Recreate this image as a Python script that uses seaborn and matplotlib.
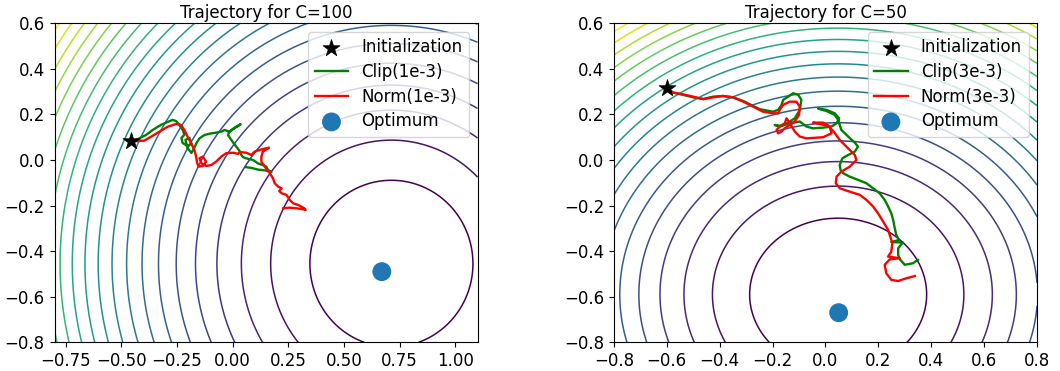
import numpy as np
import matplotlib
matplotlib.use("Agg")
import matplotlib.pyplot as plt
import seaborn as sns

# ---------------- data ----------------
titles = ["Trajectory for C=100", "Trajectory for C=50"]
clip_labels = ["Clip(1e-3)", "Clip(3e-3)"]
norm_labels = ["Norm(1e-3)", "Norm(3e-3)"]

xlims = [(-0.8, 1.1), (-0.8, 0.8)]
ylims = [(-0.8, 0.6), (-0.8, 0.6)]

init_c100 = [-0.458, 0.083]
opt_c100 = [0.67, -0.49]
loss_center_c100 = [0.713, -0.455]
level_first_c100, level_step_c100, n_levels_c100 = 0.134, 0.160, 21

init_c50 = [-0.601, 0.315]
opt_c50 = [0.05, -0.67]
loss_center_c50 = [0.048, -0.59]
level_first_c50, level_step_c50, n_levels_c50 = 0.112, 0.114, 18

clip_c100_x = [-0.458, -0.434, -0.389, -0.359, -0.322, -0.292, -0.269, -0.254, -0.239, -0.224,
               -0.217, -0.230, -0.225, -0.203, -0.185, -0.194, -0.212, -0.203, -0.185, -0.172,
               -0.162, -0.149, -0.126, -0.096, -0.074, -0.050, -0.036, -0.014, 0.001, 0.016,
               0.036, 0.013, -0.014, -0.021, -0.006, 0.016, 0.031, 0.039, 0.046, 0.062,
               0.092, 0.114, 0.136, 0.151, 0.159, 0.174, 0.149, 0.113, 0.086, 0.059]
clip_c100_y = [0.083, 0.088, 0.110, 0.132, 0.154, 0.167, 0.176, 0.171, 0.154, 0.132,
               0.110, 0.097, 0.075, 0.062, 0.071, 0.097, 0.088, 0.053, 0.031, 0.053,
               0.075, 0.095, 0.110, 0.117, 0.120, 0.125, 0.132, 0.124, 0.136, 0.146,
               0.157, 0.143, 0.125, 0.110, 0.088, 0.059, 0.040, 0.022, 0.013, 0.007,
               0.000, -0.015, -0.022, -0.029, -0.044, -0.053, -0.046, -0.042, -0.035, -0.031]

norm_c100_x = [-0.458, -0.434, -0.397, -0.367, -0.329, -0.292, -0.254, -0.232, -0.217, -0.202,
               -0.186, -0.172, -0.164, -0.159, -0.153, -0.134, -0.119, -0.134, -0.149, -0.141,
               -0.119, -0.096, -0.074, -0.051, -0.029, 0.001, 0.024, 0.031, 0.062, 0.084,
               0.099, 0.121, 0.144, 0.163, 0.136, 0.129, 0.129, 0.144, 0.167, 0.181,
               0.189, 0.205, 0.220, 0.209, 0.220, 0.242, 0.256, 0.272, 0.294, 0.309,
               0.322, 0.328, 0.309, 0.287, 0.256, 0.227]
norm_c100_y = [0.083, 0.083, 0.085, 0.102, 0.124, 0.146, 0.158, 0.154, 0.132, 0.102,
               0.073, 0.044, 0.015, -0.014, -0.029, -0.026, -0.007, 0.015, 0.008, -0.014,
               -0.026, -0.022, -0.007, 0.015, 0.030, 0.032, 0.027, 0.035, 0.032, 0.022,
               0.037, 0.044, 0.050, 0.054, 0.037, 0.015, -0.007, -0.029, -0.058, -0.080,
               -0.102, -0.117, -0.124, -0.136, -0.146, -0.153, -0.175, -0.190, -0.197, -0.205,
               -0.212, -0.219, -0.215, -0.212, -0.209, -0.212]

clip_c50_x = [-0.601, -0.576, -0.538, -0.500, -0.462, -0.425, -0.387, -0.349, -0.311, -0.273,
              -0.248, -0.198, -0.179, -0.166, -0.160, -0.141, -0.122, -0.103, -0.091, -0.097,
              -0.116, -0.135, -0.154, -0.173, -0.192, -0.173, -0.135, -0.097, -0.072, -0.047,
              -0.009, 0.023, 0.042, 0.052, 0.035, 0.004, -0.028, 0.004, 0.035, 0.048,
              0.060, 0.086, 0.111, 0.123, 0.111, 0.086, 0.064, 0.054, 0.057, 0.067,
              0.092, 0.123, 0.155, 0.180, 0.205, 0.224, 0.237, 0.249, 0.256, 0.262,
              0.268, 0.278, 0.249, 0.293, 0.275, 0.275, 0.283, 0.300, 0.331, 0.350]
clip_c50_y = [0.315, 0.296, 0.286, 0.275, 0.268, 0.278, 0.281, 0.275, 0.259, 0.237,
              0.223, 0.212, 0.220, 0.242, 0.264, 0.278, 0.293, 0.286, 0.264, 0.220,
              0.183, 0.169, 0.154, 0.147, 0.154, 0.150, 0.161, 0.169, 0.147, 0.139,
              0.142, 0.147, 0.161, 0.183, 0.205, 0.220, 0.226, 0.215, 0.198, 0.176,
              0.132, 0.103, 0.076, 0.059, 0.037, 0.022, 0.008, -0.022, -0.044, -0.058,
              -0.073, -0.087, -0.102, -0.124, -0.146, -0.175, -0.204, -0.234, -0.263, -0.299,
              -0.329, -0.351, -0.360, -0.362, -0.387, -0.417, -0.438, -0.460, -0.453, -0.438]

norm_c50_x = [-0.601, -0.576, -0.538, -0.500, -0.462, -0.425, -0.387, -0.349, -0.311, -0.273,
              -0.236, -0.198, -0.179, -0.173, -0.160, -0.135, -0.110, -0.097, -0.100, -0.116,
              -0.135, -0.154, -0.166, -0.179, -0.185, -0.173, -0.154, -0.147, -0.135, -0.116,
              -0.097, -0.072, -0.009, 0.023, 0.016, -0.009, -0.047, -0.021, 0.010, 0.031,
              0.054, 0.079, 0.098, 0.111, 0.117, 0.092, 0.060, 0.042, 0.039, 0.054,
              0.092, 0.130, 0.155, 0.180, 0.199, 0.218, 0.237, 0.253, 0.249, 0.237,
              0.281, 0.243, 0.224, 0.230, 0.249, 0.275, 0.306, 0.338]
norm_c50_y = [0.315, 0.296, 0.288, 0.278, 0.267, 0.275, 0.281, 0.275, 0.256, 0.234,
              0.212, 0.205, 0.205, 0.220, 0.242, 0.256, 0.256, 0.234, 0.198, 0.169,
              0.154, 0.139, 0.125, 0.117, 0.132, 0.147, 0.161, 0.183, 0.161, 0.125,
              0.103, 0.095, 0.100, 0.117, 0.147, 0.164, 0.164, 0.158, 0.150, 0.125,
              0.088, 0.059, 0.037, 0.022, 0.000, -0.029, -0.051, -0.073, -0.102, -0.124,
              -0.139, -0.153, -0.175, -0.204, -0.234, -0.270, -0.307, -0.365, -0.402, -0.424,
              -0.431, -0.436, -0.460, -0.497, -0.526, -0.531, -0.519, -0.509]

panels = [
    dict(title=titles[0], xlim=xlims[0], ylim=ylims[0], init=init_c100, opt=opt_c100,
         center=loss_center_c100, lv=(level_first_c100, level_step_c100, n_levels_c100),
         clip=(clip_c100_x, clip_c100_y), norm=(norm_c100_x, norm_c100_y),
         clip_label=clip_labels[0], norm_label=norm_labels[0]),
    dict(title=titles[1], xlim=xlims[1], ylim=ylims[1], init=init_c50, opt=opt_c50,
         center=loss_center_c50, lv=(level_first_c50, level_step_c50, n_levels_c50),
         clip=(clip_c50_x, clip_c50_y), norm=(norm_c50_x, norm_c50_y),
         clip_label=clip_labels[1], norm_label=norm_labels[1]),
]

# ---------------- figure ----------------
FS = 12
plt.rcParams['font.family'] = ['DejaVu Sans']
plt.rcParams['font.size'] = FS
fig, axes = plt.subplots(1, 2, figsize=(10.6, 3.71), dpi=100)
fig.subplots_adjust(left=54.5 / 1060, right=1037 / 1060, bottom=1 - 342.3 / 371,
                    top=1 - 23.3 / 371, wspace=136.3 / 423)

for ax, p in zip(axes, panels):
    gx = np.linspace(p['xlim'][0], p['xlim'][1], 500)
    gy = np.linspace(p['ylim'][0], p['ylim'][1], 500)
    X, Y = np.meshgrid(gx, gy)
    Z = (X - p['center'][0]) ** 2 + (Y - p['center'][1]) ** 2
    first, step, n = p['lv']
    levels = first + step * np.arange(n)
    ax.contour(X, Y, Z, levels=levels, cmap='viridis', linewidths=1.1, zorder=1)

    sns.scatterplot(x=[p['init'][0]], y=[p['init'][1]], marker='*', s=165, color='black',
                    edgecolor='black', linewidth=0.5, ax=ax, label='Initialization', zorder=5)
    sns.lineplot(x=p['clip'][0], y=p['clip'][1], sort=False, estimator=None, color='green',
                 lw=1.7, ax=ax, label=p['clip_label'], zorder=3)
    sns.lineplot(x=p['norm'][0], y=p['norm'][1], sort=False, estimator=None, color='red',
                 lw=1.7, ax=ax, label=p['norm_label'], zorder=4)
    sns.scatterplot(x=[p['opt'][0]], y=[p['opt'][1]], marker='o', s=185, color='#1f77b4',
                    edgecolor='none', ax=ax, label='Optimum', zorder=5)

    ax.set_xlim(*p['xlim'])
    ax.set_ylim(*p['ylim'])
    ax.set_title(p['title'], fontsize=FS, pad=4)
    ax.set_xlabel('')
    ax.set_ylabel('')
    ax.tick_params(labelsize=FS)
    ax.legend(loc='upper right', fontsize=FS, labelspacing=0.4)

axes[0].set_xticks([-0.75, -0.5, -0.25, 0.0, 0.25, 0.5, 0.75, 1.0])
axes[1].set_xticks(np.arange(-0.8, 0.81, 0.2))

fig.savefig('out.png', dpi=100)
